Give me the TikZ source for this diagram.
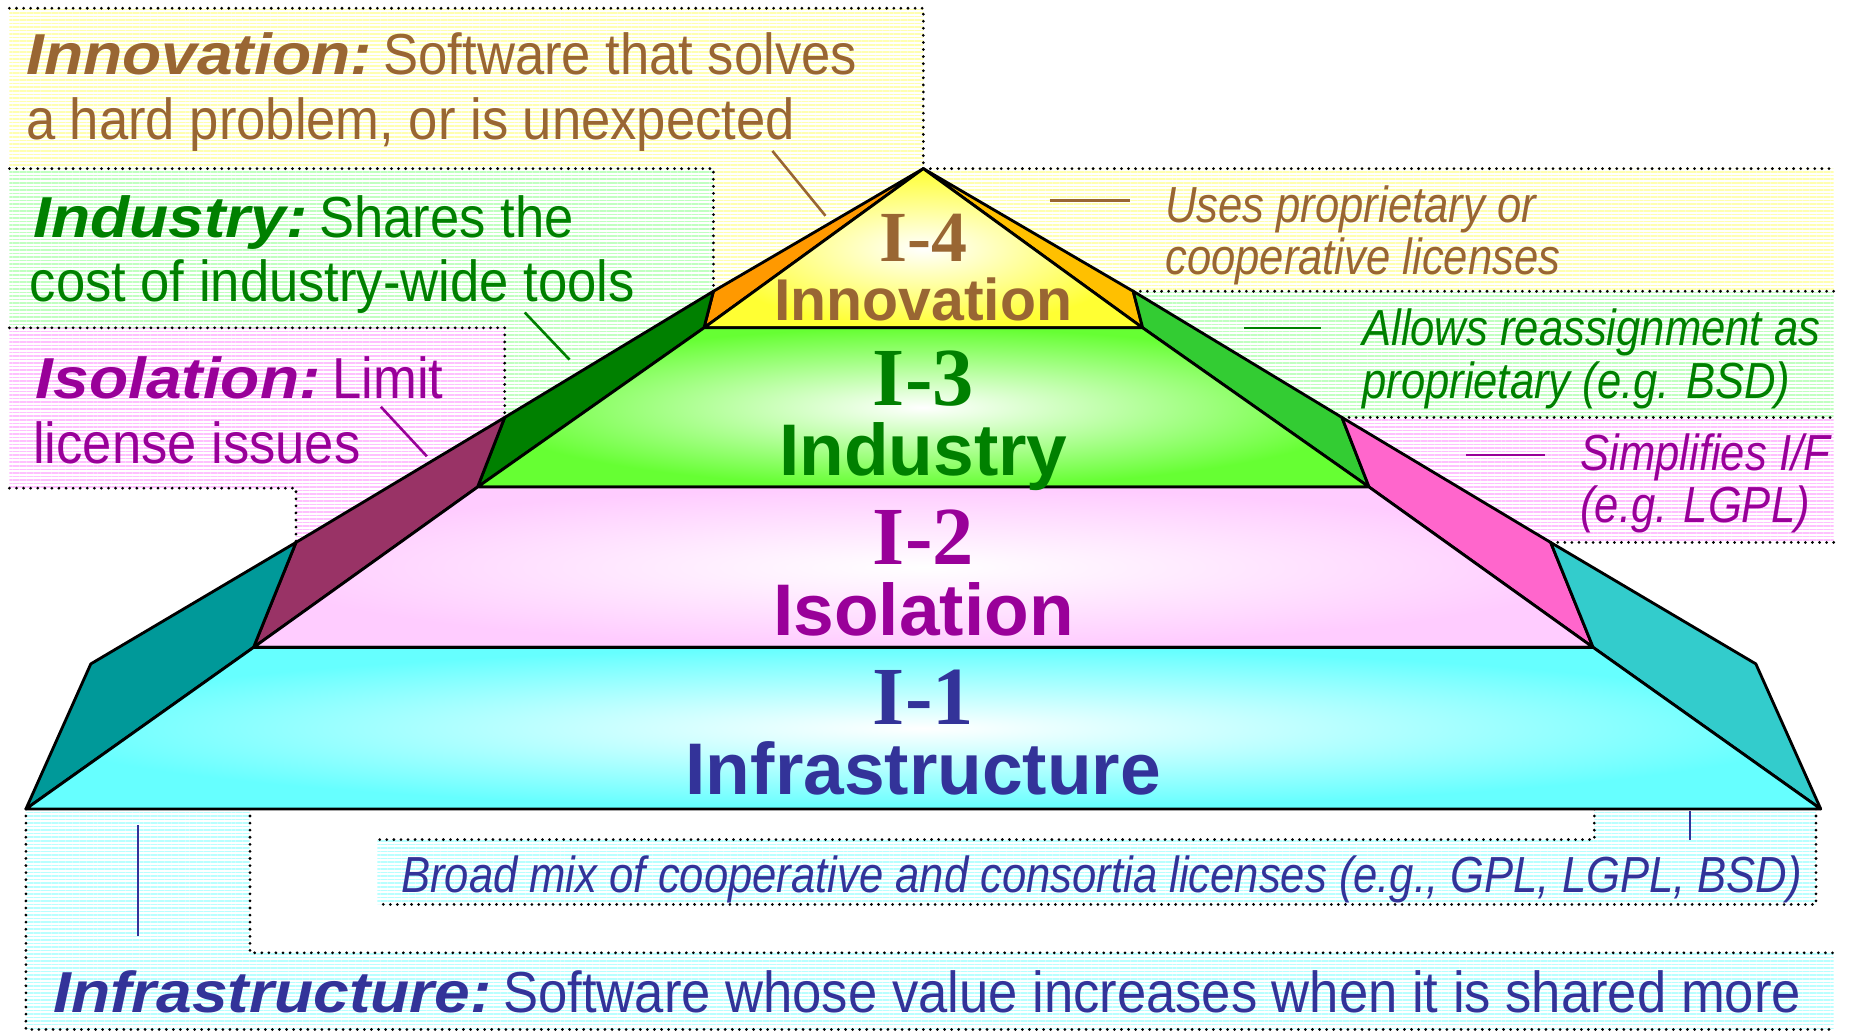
\documentclass[tikz,border=0pt]{standalone}
\usepackage{fontspec}
\setmainfont{Liberation Sans}
\newfontfamily\tierfont{Liberation Serif}
% note fonts: narrow body, wide bold-italic heads
\newfontfamily\notebody{Liberation Sans}[FakeStretch=0.91]
\newfontfamily\notehead{Liberation Sans}[FakeStretch=1.11]
\newfontfamily\sidenote{Liberation Sans}[FakeStretch=0.86]
\newcommand\notekey[1]{{\notehead\bfseries\itshape #1}\hspace{10pt}}
\usetikzlibrary{patterns.meta}

\definecolor{cBrown}{HTML}{996633}
\definecolor{cGreen}{HTML}{008000}
\definecolor{cPurple}{HTML}{990099}
\definecolor{cBlue}{HTML}{333399}
% stripe tints of the note boxes
\definecolor{sYellow}{HTML}{FFFFB0}
\definecolor{sGreen}{HTML}{C0FFC0}
\definecolor{sPink}{HTML}{FFC0FF}
\definecolor{sCyan}{HTML}{B8FFFF}
% pyramid faces
\definecolor{fYellow}{HTML}{FFFF33}
\definecolor{fGreen}{HTML}{66FF33}
\definecolor{fPink}{HTML}{FFCCFF}
\definecolor{fCyan}{HTML}{66FFFF}
% pyramid side facets
\definecolor{sdOrange}{HTML}{FF9900}
\definecolor{sdGold}{HTML}{FFC000}
\definecolor{sdDkGreen}{HTML}{008000}
\definecolor{sdLtGreen}{HTML}{33CC33}
\definecolor{sdMaroon}{HTML}{993366}
\definecolor{sdHotPink}{HTML}{FF66CC}
\definecolor{sdTeal}{HTML}{009999}
\definecolor{sdLtTeal}{HTML}{33CCCC}

\begin{document}
\begin{tikzpicture}[x=1pt,y=-1pt,
  dotline/.style={line width=2.6pt, line cap=round, dash pattern=on 0pt off 6pt},
  stripes/.style={pattern={Lines[angle=0,distance=3pt,line width=1.3pt]}, pattern color=#1},
  facet/.style={fill=#1, draw=black, line width=2.4pt, line join=round},
  face/.style={inner color=white, outer color=#1, draw=black, line width=2.4pt, line join=round},
  tiernum/.style={font=\tierfont\bfseries\fontsize{70}{70}\selectfont, anchor=base, inner sep=0pt},
  tiername/.style={font=\bfseries\fontsize{62}{62}\selectfont, anchor=base, inner sep=0pt},
  lefttxt/.style={font=\notebody\fontsize{49}{49}\selectfont, anchor=base west, inner sep=0pt},
  sidetxt/.style={font=\sidenote\itshape\fontsize{43}{43}\selectfont, anchor=base west, inner sep=0pt},
  leader/.style={line width=2.2pt}
]
\useasboundingbox (0,0) rectangle (1568,875);

% ---- pyramid corner points ----
\coordinate (A)   at (783,143);
\coordinate (L4o) at (605,247);  \coordinate (L4i) at (597,278);
\coordinate (L3o) at (428,354);  \coordinate (L3i) at (405,413);
\coordinate (L2o) at (251,460);  \coordinate (L2i) at (215,549);
\coordinate (L1o) at (77,563);   \coordinate (L1i) at (22,686);
\coordinate (R4o) at (961,247);  \coordinate (R4i) at (969,278);
\coordinate (R3o) at (1138,354); \coordinate (R3i) at (1161,413);
\coordinate (R2o) at (1315,460); \coordinate (R2i) at (1351,549);
\coordinate (R1o) at (1489,563); \coordinate (R1i) at (1544,686);

% ---- striped note areas ----
\fill[stripes=sYellow] (8,7) -- (783,7) -- (A) -- (L4o) -- (605,143) -- (8,143) -- cycle;
\fill[stripes=sGreen] (8,143) -- (605,143) -- (L4o) -- (L3o) -- (428,278) -- (8,278) -- cycle;
\fill[stripes=sPink] (8,278) -- (428,278) -- (L3o) -- (L2o) -- (251,414) -- (8,414) -- cycle;
\fill[stripes=sYellow] (A) -- (1555,143) -- (1555,247) -- (R4o) -- cycle;
\fill[stripes=sGreen] (R4o) -- (1555,247) -- (1555,354) -- (R3o) -- cycle;
\fill[stripes=sPink] (R3o) -- (1555,354) -- (1555,460) -- (R2o) -- cycle;
\fill[stripes=sCyan] (L1i) -- (212,686) -- (212,808) -- (1555,808) -- (1555,873) -- (22,873) -- cycle;
\fill[stripes=sCyan] (1352,686) -- (1540,686) -- (1540,767) -- (320,767) -- (320,712) -- (1352,712) -- cycle;

% ---- dotted borders ----
\draw[dotline] (8,7) -- (783,7) -- (A);
\draw[dotline] (8,143) -- (605,143) -- (L4o);
\draw[dotline] (8,278) -- (428,278) -- (L3o);
\draw[dotline] (8,414) -- (251,414) -- (L2o);
\draw[dotline] (A) -- (1555,143);
\draw[dotline] (R4o) -- (1555,247);
\draw[dotline] (R3o) -- (1555,354);
\draw[dotline] (R2o) -- (1555,460);
\draw[dotline] (L1i) -- (22,873) -- (1555,873);
\draw[dotline] (212,686) -- (212,808) -- (1555,808);
\draw[dotline] (1352,686) -- (1352,712) -- (320,712);
\draw[dotline] (1540,686) -- (1540,767) -- (320,767);

% ---- side facets ----
\draw[facet=sdOrange]  (A) -- (L4o) -- (L4i) -- cycle;
\draw[facet=sdGold]    (A) -- (R4o) -- (R4i) -- cycle;
\draw[facet=sdDkGreen] (L4o) -- (L3o) -- (L3i) -- (L4i) -- cycle;
\draw[facet=sdLtGreen] (R4o) -- (R3o) -- (R3i) -- (R4i) -- cycle;
\draw[facet=sdMaroon]  (L3o) -- (L2o) -- (L2i) -- (L3i) -- cycle;
\draw[facet=sdHotPink] (R3o) -- (R2o) -- (R2i) -- (R3i) -- cycle;
\draw[facet=sdTeal]    (L2o) -- (L1o) -- (L1i) -- (L2i) -- cycle;
\draw[facet=sdLtTeal]  (R2o) -- (R1o) -- (R1i) -- (R2i) -- cycle;

% ---- front faces ----
\shadedraw[face=fYellow] (A) -- (R4i) -- (L4i) -- cycle;
\shadedraw[face=fGreen] (L4i) -- (R4i) -- (R3i) -- (L3i) -- cycle;
\shadedraw[face=fPink] (L3i) -- (R3i) -- (R2i) -- (L2i) -- cycle;
\shadedraw[face=fCyan] (L2i) -- (R2i) -- (R1i) -- (L1i) -- cycle;

% ---- tier labels ----
\node[tiernum, text=cBrown, font=\tierfont\bfseries\fontsize{61}{61}\selectfont] (n4) at (783,222) {I-4};
\node[tiername, text=cBrown, font=\bfseries\fontsize{50}{50}\selectfont] (m4) at (783,272) {Innovation};
\node[tiernum, text=cGreen] (n3) at (783,344) {I-3};
\node[tiername, text=cGreen] (m3) at (783,403) {Industry};
\node[tiernum, text=cPurple] (n2) at (783,479) {I-2};
\node[tiername, text=cPurple] (m2) at (783,539) {Isolation};
\node[tiernum, text=cBlue] (n1) at (783,614) {I-1};
\node[tiername, text=cBlue] (m1) at (783,674) {Infrastructure};

% ---- left notes ----
\node[lefttxt, text=cBrown] (inno1) at (22,63) {\notekey{Innovation:}Software that solves};
\node[lefttxt, text=cBrown] (inno2) at (22,118) {a hard problem, or is unexpected};
\node[lefttxt, text=cGreen] (indu1) at (28,201) {\notekey{Industry:}Shares the};
\node[lefttxt, text=cGreen] (indu2) at (25,256) {cost of industry-wide tools};
\node[lefttxt, text=cPurple] (isol1) at (30,338) {\notekey{Isolation:}Limit};
\node[lefttxt, text=cPurple] (isol2) at (28,393) {license issues};
\node[lefttxt, text=cBlue] (infr) at (45,859) {\notekey{Infrastructure:}Software whose value increases when it is shared more};

% ---- right notes ----
\node[sidetxt, text=cBrown] (uses1) at (988,189) {Uses proprietary or};
\node[sidetxt, text=cBrown] (uses2) at (988,233) {cooperative licenses};
\node[sidetxt, text=cGreen] (allo1) at (1155,293) {Allows reassignment as};
\node[sidetxt, text=cGreen] (allo2) at (1155,338) {proprietary (e.g. BSD)};
\node[sidetxt, text=cPurple] (simp1) at (1340,399) {Simplifies I/F};
\node[sidetxt, text=cPurple] (simp2) at (1340,443) {(e.g. LGPL)};
\node[sidetxt, text=cBlue] (broad) at (340,757) {Broad mix of cooperative and consortia licenses (e.g., GPL, LGPL, BSD)};

% ---- leader marks ----
\coordinate (k1a) at (655,128); \coordinate (k1b) at (700,183);
\coordinate (k2a) at (445,265); \coordinate (k2b) at (483,305);
\coordinate (k3a) at (323,345); \coordinate (k3b) at (362,387);
\coordinate (k4a) at (890,170); \coordinate (k4b) at (958,170);
\coordinate (k5a) at (1055,278); \coordinate (k5b) at (1120,278);
\coordinate (k6a) at (1243,386); \coordinate (k6b) at (1310,386);
\coordinate (k7a) at (117,700); \coordinate (k7b) at (117,794);
\coordinate (k8a) at (1433,688); \coordinate (k8b) at (1433,712);
\draw[leader, cBrown] (k1a) -- (k1b);
\draw[leader, cGreen] (k2a) -- (k2b);
\draw[leader, cPurple] (k3a) -- (k3b);
\draw[leader, cBrown] (k4a) -- (k4b);
\draw[leader, cGreen] (k5a) -- (k5b);
\draw[leader, cPurple] (k6a) -- (k6b);
\draw[leader, cBlue] (k7a) -- (k7b);
\draw[leader, cBlue] (k8a) -- (k8b);
\end{tikzpicture}
\end{document}
